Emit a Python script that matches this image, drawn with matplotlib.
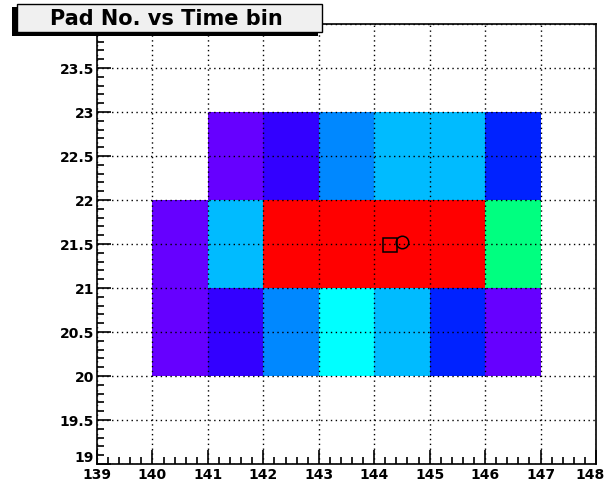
import numpy as np
import matplotlib
matplotlib.use("Agg")
import matplotlib.pyplot as plt
import matplotlib.transforms as mtransforms
from matplotlib.colors import ListedColormap, BoundaryNorm
from matplotlib.patches import Rectangle
from matplotlib.ticker import MultipleLocator

# time bin edges (x) and pad edges (y)
time_edges = [140, 141, 142, 143, 144, 145, 146, 147]
pad_edges = [20, 21, 22, 23]

# palette level of each cell, rows = pads 20, 21, 22
levels = np.array([
    [1, 2, 4, 6, 5, 3, 1],
    [1, 5, 10, 10, 10, 10, 7],
    [np.nan, 1, 2, 4, 5, 5, 3],
])

palette = ["#6600ff", "#3300ff", "#0022ff", "#0088ff", "#00bbff",
           "#00ffff", "#00ff80", "#ffff00", "#ff8000", "#ff0000"]

# reconstructed hit positions
square_pt = (144.28, 21.49)
circle_pt = (144.50, 21.52)

plt.rcParams["font.family"] = ["DejaVu Sans"]

fig = plt.figure(figsize=(6.08, 4.81), dpi=100)
W, H = 608, 481
ax = fig.add_axes([97 / W, 1 - 465 / H, 499 / W, 440 / H])

cmap = ListedColormap(palette)
norm = BoundaryNorm(np.arange(0.5, 11.5, 1), cmap.N)
ax.pcolormesh(time_edges, pad_edges, np.ma.masked_invalid(levels),
              cmap=cmap, norm=norm, zorder=1)

ax.plot(*square_pt, marker="s", ms=10, mfc="none", mec="black", mew=1.1, zorder=4)
ax.plot(*circle_pt, marker="o", ms=9, mfc="none", mec="black", mew=1.1, zorder=4)

ax.set_xlim(139, 148)
ax.set_ylim(19, 24)
ax.xaxis.set_major_locator(MultipleLocator(1))
ax.xaxis.set_minor_locator(MultipleLocator(0.2))
ax.yaxis.set_major_locator(MultipleLocator(0.5))
ax.yaxis.set_minor_locator(MultipleLocator(0.1))
# the top label sits under the title box
ax.yaxis.set_major_formatter(plt.FuncFormatter(lambda v, p: "" if v >= 24 else f"{v:g}"))

ax.tick_params(which="both", direction="in", top=False, right=False,
               color="black", width=1.2)
ax.tick_params(which="major", length=10, labelsize=10, pad=2)
ax.tick_params(which="minor", length=5)
for lab in ax.get_xticklabels() + ax.get_yticklabels():
    lab.set_fontweight("bold")
fig.canvas.draw()
for lab in ax.get_yticklabels():
    if lab.get_text() == "19":
        lab.set_va("bottom")
# keep the last x label inside the picture
shift = mtransforms.ScaledTranslation(-6 / 100, 0, fig.dpi_scale_trans)
for lab in ax.get_xticklabels():
    if lab.get_text() == "148":
        lab.set_transform(lab.get_transform() + shift)

ax.grid(True, which="major", linestyle=(0, (1, 2.5)), color="black",
        linewidth=1.0, zorder=3)
ax.set_axisbelow(False)
for sp in ax.spines.values():
    sp.set_linewidth(1.2)
    sp.set_zorder(5)

# title box with shadow
shadow = Rectangle((12 / W, 1 - 37 / H), 306 / W, 29 / H, transform=fig.transFigure,
                   facecolor="black", edgecolor="none", zorder=10)
box = Rectangle((17 / W, 1 - 33 / H), 305 / W, 28 / H, transform=fig.transFigure,
                facecolor="#f0f0f0", edgecolor="black", linewidth=1.0, zorder=11)
fig.patches.extend([shadow, box])
fig.text(166 / W, 1 - 19 / H, "Pad No. vs Time bin", ha="center", va="center",
         fontsize=15, fontweight="bold", zorder=12)

fig.savefig("out.png", dpi=100)
